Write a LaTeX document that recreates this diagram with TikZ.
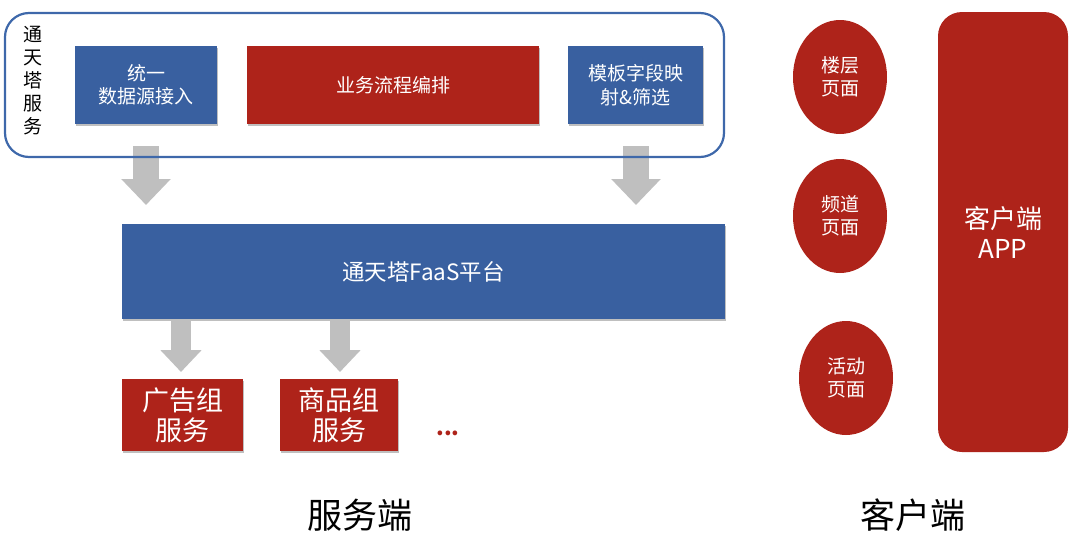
\documentclass[tikz,border=0pt]{standalone}
\usepackage{fontspec}
\setmainfont{Noto Sans CJK SC}
\usetikzlibrary{shadows,arrows.meta,shapes.geometric}
\definecolor{bblue}{RGB}{57,96,160}
\definecolor{bred}{RGB}{174,35,26}
\definecolor{bline}{RGB}{62,104,170}
\definecolor{agray}{RGB}{191,191,191}
\tikzset{
  boxshadow/.style={drop shadow={shadow xshift=1pt,shadow yshift=-2pt,opacity=0.25,fill=black}},
  bluebox/.style={fill=bblue,text=white,inner sep=0pt,align=center,boxshadow},
  redbox/.style={fill=bred,text=white,inner sep=0pt,align=center,boxshadow},
  bigarrow/.style={draw=agray,line width=26pt,-{Triangle[width=48pt,length=26pt]}},
  smallarrow/.style={draw=agray,line width=20pt,-{Triangle[width=40pt,length=22pt]}},
  redell/.style={ellipse,fill=bred,text=white,inner sep=0pt,align=center,minimum width=94pt,minimum height=114pt},
  f20/.style={font=\fontsize{19}{23.5}\selectfont},
}
\begin{document}
\begin{tikzpicture}[x=1pt,y=-1pt]
\useasboundingbox (0,0) rectangle (1080,544);
% arrow anchor coordinates
\coordinate (a1s) at (146,146);
\coordinate (a1e) at (146,205);
\coordinate (a2s) at (636,146);
\coordinate (a2e) at (636,205);
\coordinate (a3s) at (181,321);
\coordinate (a3e) at (181,372);
\coordinate (a4s) at (340,321);
\coordinate (a4e) at (340,372);
\draw[bigarrow] (a1s) -- (a1e);
\draw[bigarrow] (a2s) -- (a2e);
% outer service frame
\node[draw=bline,line width=2.2pt,rounded corners=24pt,minimum width=719pt,minimum height=144pt,inner sep=0pt] (frame) at (364.5,85) {};
\node[f20,align=center,font=\fontsize{19}{23}\selectfont] (vt) at (33,81) {通\\天\\塔\\服\\务};
\node[bluebox,f20,minimum width=142pt,minimum height=78pt] (src) at (146,85) {统一\\数据源接入};
\node[redbox,f20,minimum width=292pt,minimum height=78pt] (flow) at (393,85) {业务流程编排};
\node[bluebox,f20,minimum width=135pt,minimum height=78pt] (tpl) at (635.5,85) {模板字段映\\射\&筛选};
% FaaS platform
\node[bluebox,font=\fontsize{22.5}{26}\selectfont,minimum width=603pt,minimum height=95pt] (faas) at (423.5,271.5) {通天塔FaaS平台};
\draw[smallarrow] (a3s) -- (a3e);
\draw[smallarrow] (a4s) -- (a4e);
\node[redbox,font=\fontsize{27}{30}\selectfont,minimum width=121pt,minimum height=72pt] (ad) at (182.5,415) {广告组\\服务};
\node[redbox,font=\fontsize{27}{30}\selectfont,minimum width=118pt,minimum height=72pt] (goods) at (339,415) {商品组\\服务};
\node[text=bred,font=\fontsize{22}{24}\selectfont\bfseries] (dots) at (448,433) {...};
\node[font=\fontsize{35}{40}\selectfont] (svr) at (360,515) {服务端};
% client side
\node[redell,f20] (floor) at (840,77) {楼层\\页面};
\node[redell,f20] (chan) at (840,216) {频道\\页面};
\node[redell,f20] (act) at (846,378) {活动\\页面};
\node[fill=bred,text=white,rounded corners=24pt,minimum width=130pt,minimum height=440pt,inner sep=0pt,align=center,font=\fontsize{26}{30}\selectfont] (app) at (1003,232) {客户端\\APP};
\node[font=\fontsize{35}{40}\selectfont] (cli) at (913,515) {客户端};
\end{tikzpicture}
\end{document}
